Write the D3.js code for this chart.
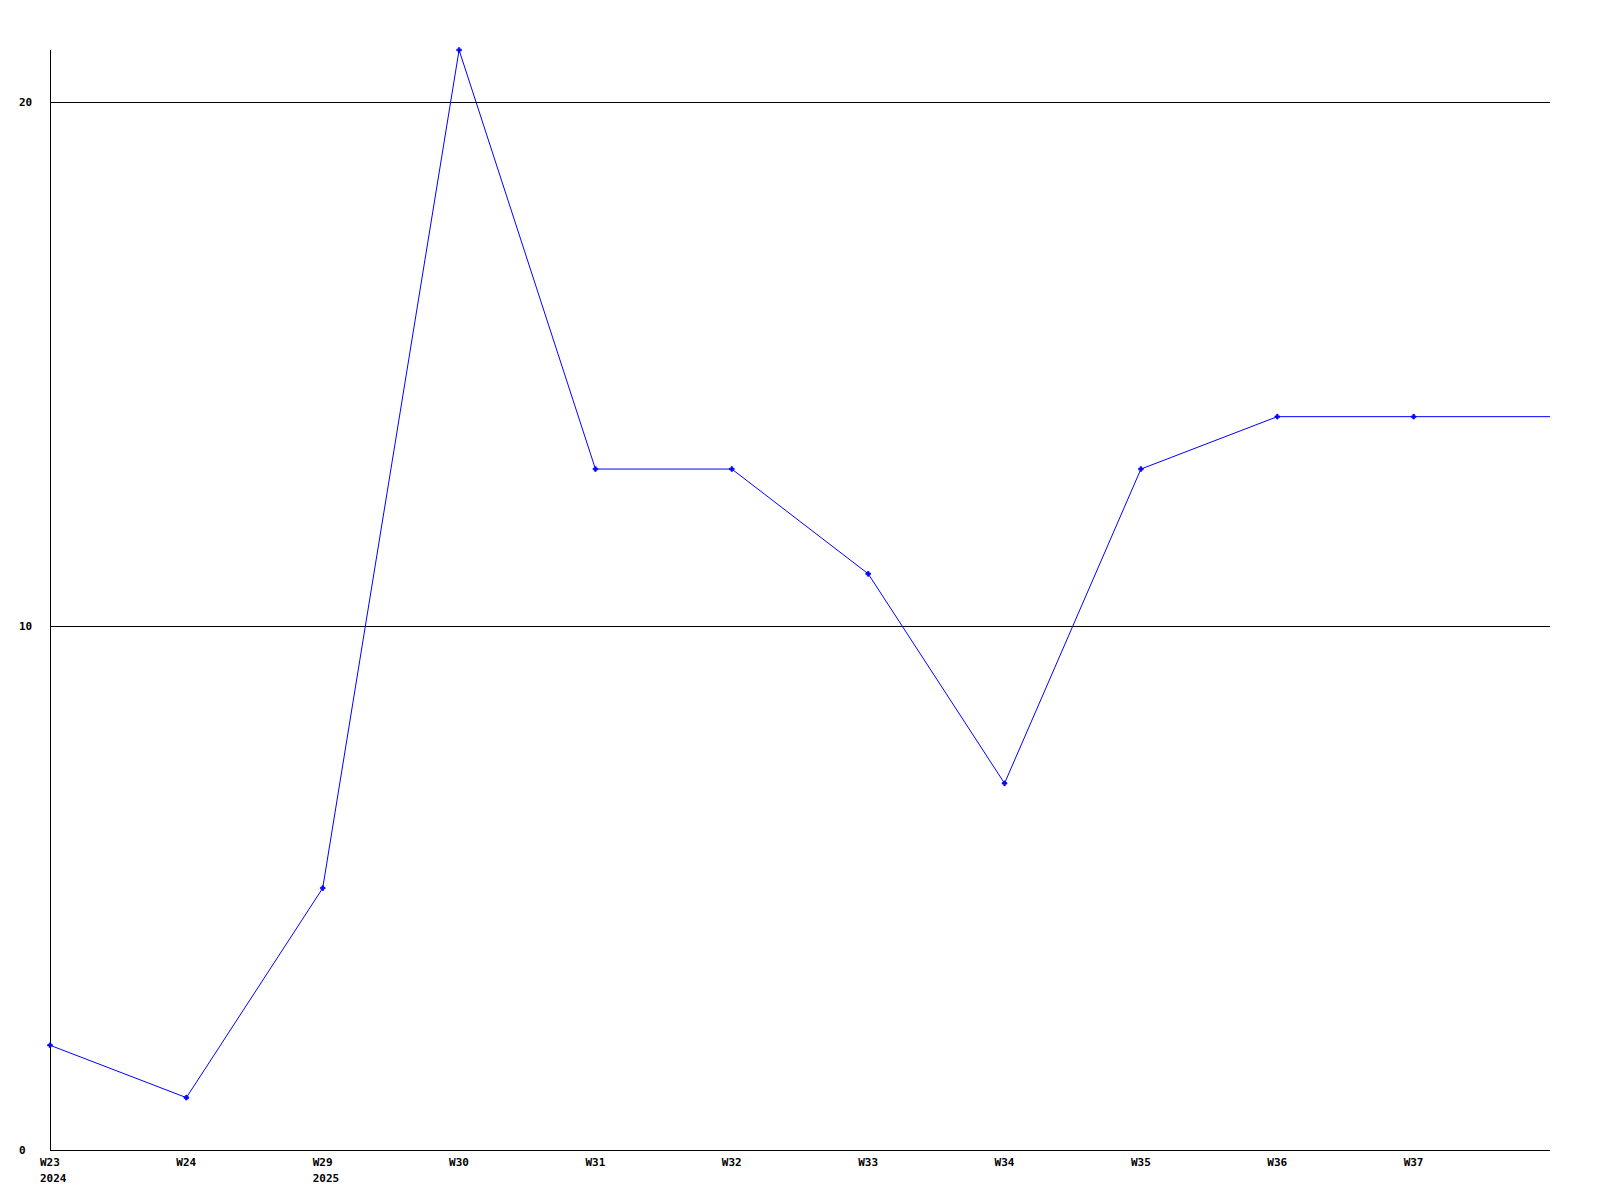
<!DOCTYPE html>
<html>
<head>
<meta charset="utf-8">
<script src="https://cdnjs.cloudflare.com/ajax/libs/d3/7.8.5/d3.min.js"></script>
<style>
body { margin: 0; background: #fff; }
text { font-family: "DejaVu Sans Mono", "Liberation Mono", monospace; font-weight: bold; font-size: 11px; fill: #000; }
</style>
</head>
<body>
<div class="chart"></div>
<script>
var width = 1600, height = 1200;

// weeks on the x axis (last slot has no label)
var weeks = ['W23', 'W24', 'W29', 'W30', 'W31', 'W32', 'W33', 'W34', 'W35', 'W36', 'W37', ''];
var years = ['2024', '', '2025', '', '', '', '', '', '', '', '', ''];
var values = [2, 1, 5, 21, 13, 13, 11, 7, 13, 14, 14, 14];
var yTicks = [0, 10, 20];

var plotLeft = 50, plotRight = 1550, plotTop = 50, plotBottom = 1150;

var svg = d3.select('.chart')
	.append('svg')
	.attr('width', width)
	.attr('height', height);

var x = d3.scalePoint()
	.domain(d3.range(weeks.length))
	.range([plotLeft, plotRight]);

var y = d3.scaleLinear()
	.domain([0, 21])
	.range([plotBottom, plotTop]);

// grid lines
svg.append('g')
	.selectAll('line')
	.data(yTicks.filter(function(d) { return d > 0; }))
	.enter().append('line')
	.attr('x1', plotLeft)
	.attr('x2', plotRight)
	.attr('y1', function(d) { return Math.round(y(d)) + 0.5; })
	.attr('y2', function(d) { return Math.round(y(d)) + 0.5; })
	.attr('stroke', 'black')
	.attr('stroke-width', 1);

// y labels
svg.append('g')
	.selectAll('text')
	.data(yTicks)
	.enter().append('text')
	.attr('x', 19)
	.attr('y', function(d) { return y(d) + 4; })
	.text(function(d) { return d; });

// axes
svg.append('line')
	.attr('x1', plotLeft + 0.5).attr('x2', plotLeft + 0.5)
	.attr('y1', plotTop).attr('y2', plotBottom + 1)
	.attr('stroke', 'black');
svg.append('line')
	.attr('x1', plotLeft).attr('x2', plotRight)
	.attr('y1', plotBottom + 0.5).attr('y2', plotBottom + 0.5)
	.attr('stroke', 'black');

// x labels
var xl = svg.append('g')
	.selectAll('g')
	.data(weeks)
	.enter().append('g');

xl.append('text')
	.attr('x', function(d, i) { return x(i) - 10; })
	.attr('y', plotBottom + 16)
	.text(function(d) { return d; });

xl.append('text')
	.attr('x', function(d, i) { return x(i) - 10; })
	.attr('y', plotBottom + 32)
	.text(function(d, i) { return years[i]; });

// series line
var line = d3.line()
	.x(function(d, i) { return x(i); })
	.y(function(d) { return y(d); });

svg.append('path')
	.datum(values)
	.attr('d', line)
	.attr('fill', 'none')
	.attr('stroke', '#0000ff')
	.attr('stroke-width', 1);

// markers
svg.append('g')
	.selectAll('path')
	.data(values.filter(function(d, i) { return weeks[i] !== ''; }))
	.enter().append('path')
	.attr('d', d3.symbol().type(d3.symbolCross).size(12))
	.attr('transform', function(d, i) { return 'translate(' + x(i) + ',' + y(d) + ')'; })
	.attr('fill', '#0000ff')
	.attr('stroke', '#0000ff')
	.attr('stroke-width', 0.8);
</script>
</body>
</html>
